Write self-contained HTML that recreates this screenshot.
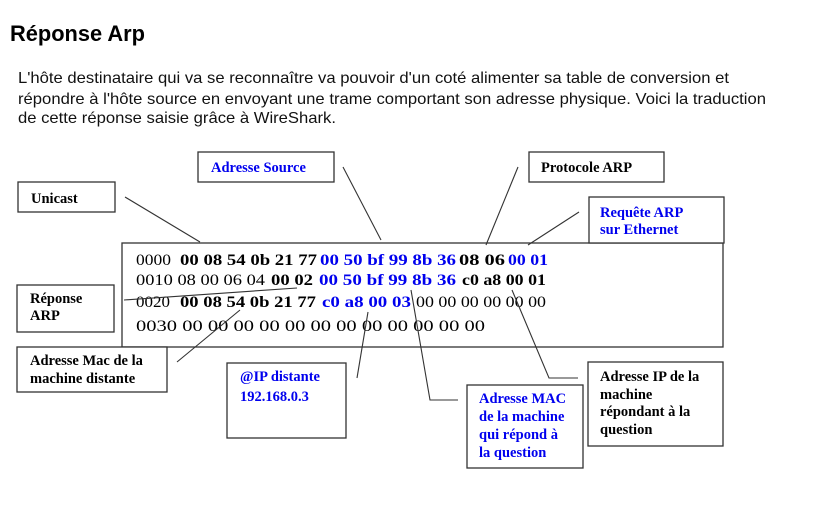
<!DOCTYPE html>
<html><head><meta charset="utf-8"><style>
html,body{margin:0;padding:0;background:#fff;width:821px;height:525px;overflow:hidden}
svg{display:block}
.p{font-family:"Liberation Sans",sans-serif;font-size:16px;fill:#111}
.h{font-family:"Liberation Serif",serif;font-size:16px}
.b{font-weight:bold}
.l{font-family:"Liberation Serif",serif;font-size:14.5px;font-weight:bold}
.blue{fill:#0000ee}
rect{fill:none;stroke:#333;stroke-width:1.3}
line,polyline{stroke:#333;stroke-width:1.1;fill:none}
</style></head><body>
<svg width="821" height="525" viewBox="0 0 821 525">
<text x="10" y="41" font-family="Liberation Sans,sans-serif" font-size="22" font-weight="bold" fill="#000" textLength="135" lengthAdjust="spacingAndGlyphs">Réponse Arp</text>
<text class="p" x="18" y="83" textLength="711" lengthAdjust="spacingAndGlyphs">L'hôte destinataire qui va se reconnaître va pouvoir d'un coté alimenter sa table de conversion et</text>
<text class="p" x="18" y="104" textLength="748" lengthAdjust="spacingAndGlyphs">répondre à l'hôte source en envoyant une trame comportant son adresse physique. Voici la traduction</text>
<text class="p" x="18" y="123" textLength="318" lengthAdjust="spacingAndGlyphs">de cette réponse saisie grâce à WireShark.</text>

<rect x="122" y="243" width="601" height="104"/>
<rect x="18" y="182" width="97" height="30"/>
<rect x="198" y="152" width="136" height="30"/>
<rect x="529" y="152" width="135" height="30"/>
<rect x="589" y="197" width="135" height="46" style="fill:#fff"/>
<rect x="17" y="285" width="97" height="47"/>
<rect x="17" y="347" width="150" height="45" style="fill:#fff"/>
<rect x="227" y="363" width="119" height="75"/>
<rect x="467" y="385" width="116" height="83"/>
<rect x="588" y="362" width="135" height="84"/>

<text class="l" x="31" y="203">Unicast</text>
<text class="l blue" x="211" y="172">Adresse Source</text>
<text class="l" x="541" y="172">Protocole ARP</text>
<text class="l blue" x="600" y="217">Requête ARP</text>
<text class="l blue" x="600" y="234">sur Ethernet</text>
<text class="l" x="30" y="303">Réponse</text>
<text class="l" x="30" y="320">ARP</text>
<text class="l" x="30" y="365">Adresse Mac de la</text>
<text class="l" x="30" y="383">machine distante</text>
<text class="l blue" x="240" y="381">@IP distante</text>
<text class="l blue" x="240" y="401">192.168.0.3</text>
<text class="l blue" x="479" y="403">Adresse MAC</text>
<text class="l blue" x="479" y="421">de la machine</text>
<text class="l blue" x="479" y="439">qui répond à</text>
<text class="l blue" x="479" y="457">la question</text>
<text class="l" x="600" y="381">Adresse IP de la</text>
<text class="l" x="600" y="399">machine</text>
<text class="l" x="600" y="416">répondant à  la</text>
<text class="l" x="600" y="434">question</text>

<g class="h">
<text x="136" y="265" textLength="35" lengthAdjust="spacingAndGlyphs">0000</text>
<text class="b" x="180" y="265" textLength="137" lengthAdjust="spacingAndGlyphs">00 08 54 0b 21 77</text>
<text class="b blue" x="320" y="265" textLength="136" lengthAdjust="spacingAndGlyphs">00 50  bf 99 8b 36</text>
<text class="b" x="459" y="265" textLength="46" lengthAdjust="spacingAndGlyphs">08 06</text>
<text class="b blue" x="508" y="265" textLength="40" lengthAdjust="spacingAndGlyphs">00 01</text>

<text x="136" y="285" textLength="129" lengthAdjust="spacingAndGlyphs">0010  08 00 06 04</text>
<text class="b" x="271" y="285" textLength="42" lengthAdjust="spacingAndGlyphs">00 02</text>
<text class="b blue" x="319" y="285" textLength="137" lengthAdjust="spacingAndGlyphs">00 50  bf 99 8b 36</text>
<text class="b" x="462" y="285" textLength="84" lengthAdjust="spacingAndGlyphs">c0 a8 00 01</text>

<text x="136" y="307" textLength="34" lengthAdjust="spacingAndGlyphs">0020</text>
<text class="b" x="180" y="307" textLength="136" lengthAdjust="spacingAndGlyphs">00 08 54 0b 21 77</text>
<text class="b blue" x="322" y="307" textLength="89" lengthAdjust="spacingAndGlyphs">c0 a8  00 03</text>
<text x="416" y="307" textLength="130" lengthAdjust="spacingAndGlyphs">00 00 00 00 00 00</text>

<text x="136" y="331" textLength="349" lengthAdjust="spacingAndGlyphs">0030  00 00 00 00 00 00 00 00  00 00 00 00</text>
</g>

<line x1="125" y1="197" x2="200" y2="242"/>
<line x1="343" y1="167" x2="381" y2="240"/>
<line x1="518" y1="167" x2="486" y2="245"/>
<line x1="579" y1="212" x2="528" y2="245"/>
<line x1="124" y1="300" x2="297" y2="288"/>
<line x1="177" y1="362" x2="240" y2="310"/>
<line x1="357" y1="378" x2="368" y2="312"/>
<polyline points="458,400 430,400 411,290"/>
<polyline points="578,378 549,378 512,290"/>
</svg>
</body></html>
